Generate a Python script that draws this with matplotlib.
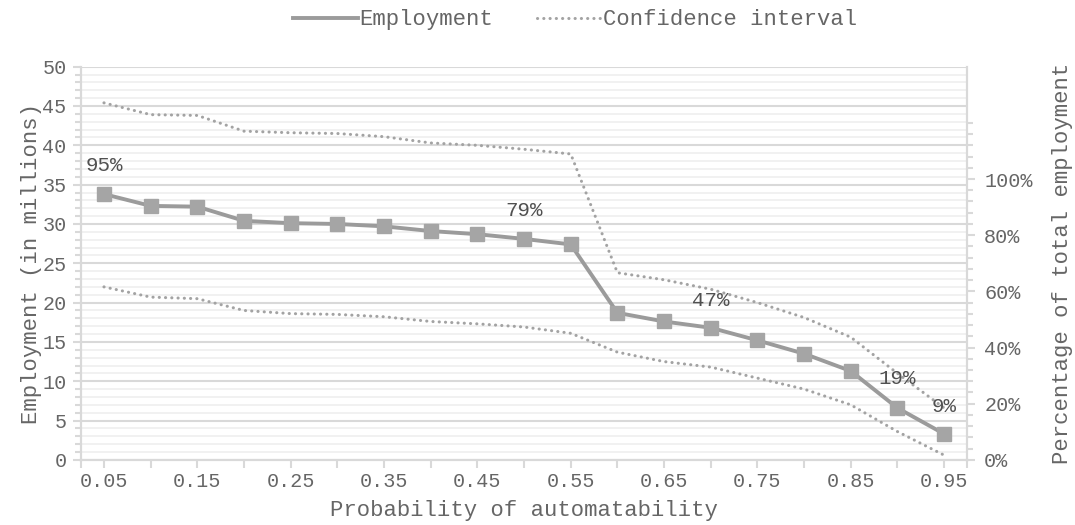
import numpy as np
import matplotlib.pyplot as plt
from matplotlib.lines import Line2D
from matplotlib.ticker import MultipleLocator, FixedLocator, FuncFormatter

plt.rcParams['font.family'] = ['Liberation Mono', 'DejaVu Sans Mono']

prob = ["0.05", "0.10", "0.15", "0.20", "0.25", "0.30", "0.35", "0.40", "0.45", "0.50",
        "0.55", "0.60", "0.65", "0.70", "0.75", "0.80", "0.85", "0.90", "0.95"]
tick_labels = ["0.05", "0.15", "0.25", "0.35", "0.45", "0.55", "0.65", "0.75", "0.85", "0.95"]

employment = [33.8, 32.3, 32.2, 30.4, 30.1, 30.0, 29.7, 29.1, 28.7, 28.1,
              27.4, 18.7, 17.6, 16.8, 15.2, 13.5, 11.3, 6.6, 3.3]
ci_upper = [45.4, 43.9, 43.8, 41.8, 41.6, 41.5, 41.1, 40.3, 40.0, 39.5,
            38.9, 23.8, 22.9, 21.7, 20.0, 18.1, 15.6, 11.0, 6.6]
ci_lower = [22.0, 20.7, 20.5, 19.0, 18.6, 18.5, 18.2, 17.6, 17.3, 16.9,
            16.1, 13.7, 12.5, 11.8, 10.4, 9.0, 7.0, 3.6, 0.6]

# share of total employment, labelled at a few points only
pct_idx = [0, 9, 13, 17, 18]
pct_val = [95, 79, 47, 19, 9]

txt = '#666666'
grid_major = '#d9d9d9'
grid_minor = '#efefef'
dotted = (0, (0.05, 2.0))

fig = plt.figure(figsize=(10.75, 5.25), dpi=100)
ax = fig.add_axes([0.075, 0.124, 0.825, 0.749])
ax2 = ax.twinx()

x = np.arange(len(prob))

for ci in (ci_upper, ci_lower):
    ax.plot(x, ci, color='#a3a3a3', lw=2.2, linestyle=dotted,
            dash_capstyle='round', zorder=3)
ax.plot(x, employment, color='#9b9b9b', lw=2.8, marker='s', markersize=10,
        markerfacecolor='#a5a5a5', markeredgecolor='#a5a5a5', zorder=4)

ax.set_xlim(-0.5, len(prob) - 0.5)
ax.set_ylim(0, 50)
ax.yaxis.set_major_locator(MultipleLocator(5))
ax.yaxis.set_minor_locator(MultipleLocator(1))
ax.grid(which='major', axis='y', color=grid_major, lw=1.5, zorder=0)
ax.grid(which='minor', axis='y', color=grid_minor, lw=1.2, zorder=0)
ax.set_axisbelow(True)

ax.set_xticks(x)
ax.set_xticklabels([p if p in tick_labels else '' for p in prob])
ax.xaxis.set_minor_locator(FixedLocator([-0.5, len(prob) - 0.5]))

for a in (ax, ax2):
    a.spines['top'].set_visible(False)
    for s in ['left', 'right', 'bottom']:
        a.spines[s].set_color(grid_major)
        a.spines[s].set_linewidth(1.5)

ax.tick_params(axis='both', which='both', colors=grid_major, labelcolor=txt,
               labelsize=14.5, width=1.5)
ax.tick_params(axis='x', which='major', length=6, pad=3)
ax.tick_params(axis='x', which='minor', length=6)
ax.tick_params(axis='y', which='major', length=6, pad=4)
ax.tick_params(axis='y', which='minor', length=4)

ax.set_xlabel('Probability of automatability', fontsize=16, color=txt, labelpad=6)
ax.set_ylabel('Employment (in millions)', fontsize=16, color=txt, labelpad=0)

# secondary axis: share of total employment
ax2.set_ylim(0, 140)
ax2.yaxis.set_major_locator(FixedLocator([0, 20, 40, 60, 80, 100]))
ax2.yaxis.set_minor_locator(FixedLocator(np.arange(0, 124, 4)))
ax2.yaxis.set_major_formatter(FuncFormatter(lambda v, p: f'{v:.0f}%'))
ax2.tick_params(axis='y', which='both', colors=grid_major, labelcolor=txt,
                labelsize=14.5, width=1.5)
ax2.tick_params(axis='y', which='major', length=6, pad=6)
ax2.tick_params(axis='y', which='minor', length=4)
ax2.set_ylabel('Percentage of total employment', fontsize=16, color=txt, labelpad=14)

for i, v in zip(pct_idx, pct_val):
    ax2.annotate(f'{v}%', (x[i], v), xytext=(0, 20), textcoords='offset points',
                 ha='center', va='center', fontsize=15, color='#505050', zorder=5)

handles = [Line2D([], [], color='#9b9b9b', lw=2.8),
           Line2D([], [], color='#a3a3a3', lw=2.2, linestyle=dotted, dash_capstyle='round')]
fig.legend(handles, ['Employment', 'Confidence interval'], loc='upper center',
           bbox_to_anchor=(0.535, 1.02), ncol=2, frameon=False, fontsize=16,
           labelcolor=txt, handlelength=2.9, handletextpad=0.05, columnspacing=2.0)

fig.savefig('out.png', dpi=100)
